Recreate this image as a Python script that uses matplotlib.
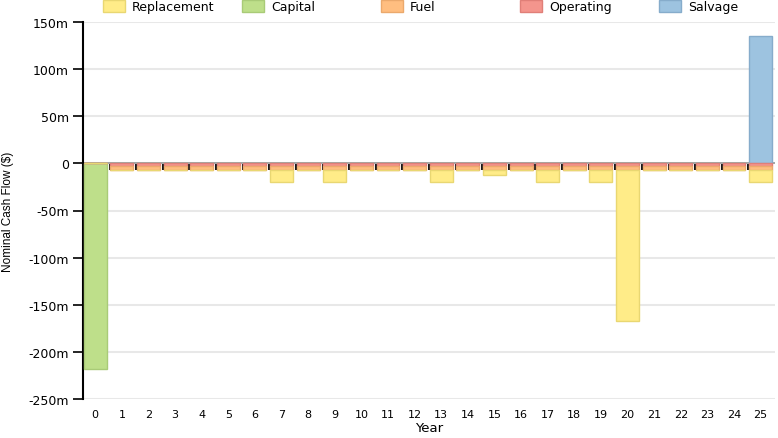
import matplotlib
matplotlib.use("Agg")
import matplotlib.pyplot as plt
from matplotlib.patches import Patch
import numpy as np

plt.rcParams['font.family'] = ['DejaVu Sans']

years = list(range(26))
year_labels = [str(y) for y in years]

capital = [-218] + [0] * 25
operating = [0] + [-2.5] * 25
fuel = [0] + [-4.7] * 25
replacement = [0, 0, 0, 0, 0, 0, 0, -12.5, 0, -12.5, 0, 0, 0, -12.5, 0, -5,
               0, -12.5, 0, -12.5, -160, 0, 0, 0, 0, -12.5]
salvage = [0] * 25 + [135]

y_ticks = [150, 100, 50, 0, -50, -100, -150, -200, -250]
y_tick_labels = ["150m", "100m", "50m", "0", "-50m", "-100m", "-150m", "-200m", "-250m"]

series_names = ["Replacement", "Capital", "Fuel", "Operating", "Salvage"]
fills = {"Replacement": "#FFEC88", "Capital": "#BEDF8A", "Fuel": "#FFBE80",
         "Operating": "#F4958D", "Salvage": "#9DC3E0"}
edges = {"Replacement": "#E9D772", "Capital": "#A9CB77", "Fuel": "#EBA96C",
         "Operating": "#E07F78", "Salvage": "#86ACCB"}

fig = plt.figure(figsize=(7.78, 4.39), dpi=100)
ax = fig.add_axes([83 / 778, 1 - 400 / 439, (775 - 83) / 778, (400 - 23) / 439])

x = np.array(years, dtype=float)
w = 0.86
off = 0.03
op = np.array(operating)
fu = np.array(fuel)
kw = dict(width=w, align='edge', linewidth=1.0, zorder=3)

ax.bar(x + off, capital, color=fills["Capital"], edgecolor=edges["Capital"], **kw)
ax.bar(x + off, salvage, color=fills["Salvage"], edgecolor=edges["Salvage"], **kw)
ax.bar(x + off, operating, color=fills["Operating"], edgecolor=edges["Operating"], **kw)
ax.bar(x + off, fuel, bottom=op, color=fills["Fuel"], edgecolor=edges["Fuel"], **kw)
ax.bar(x + off, replacement, bottom=op + fu, color=fills["Replacement"],
       edgecolor=edges["Replacement"], **kw)

ax.set_xlim(0, len(years))
ax.set_ylim(-250, 150)

ax.set_yticks(y_ticks)
ax.set_yticklabels(y_tick_labels)
ax.tick_params(axis='y', length=7, width=1.2, color='black', labelsize=9, pad=3)
ax.yaxis.grid(True, color='#e8e8e8', linewidth=1.5, zorder=0)
ax.set_axisbelow(True)

ax.set_xticks(x + off + w / 2)
ax.set_xticklabels(year_labels)
ax.tick_params(axis='x', length=0, labelsize=8, pad=7)

for s in ['top', 'right', 'bottom']:
    ax.spines[s].set_visible(False)
ax.spines['left'].set_linewidth(1.5)
ax.spines['left'].set_color('black')

# zero axis with boundary ticks
ax.axhline(0, color='#999999', linewidth=1.2, zorder=2)
zero_frac = (0 - (-250)) / (150 - (-250))
sec = ax.secondary_xaxis(zero_frac)
sec.set_xticks(x)
sec.set_xticklabels([])
sec.tick_params(axis='x', direction='in', length=5, width=1.3, color='black')
sec.spines['bottom'].set_visible(False)
sec.spines['top'].set_visible(False)

ax.set_xlabel("Year", fontsize=9.5, labelpad=2)
ax.set_ylabel("Nominal Cash Flow ($)", fontsize=8.5, labelpad=4,
              family=['Liberation Sans', 'DejaVu Sans'])
ax.yaxis.set_label_coords(-0.1, 0.5)

for k, name in enumerate(series_names):
    h = Patch(facecolor=fills[name], edgecolor=edges[name], label=name)
    fig.legend(handles=[h], loc='upper left',
               bbox_to_anchor=((103 + 139 * k) / 778, 1 - 1 / 439),
               frameon=False, fontsize=9, handlelength=1.75, handleheight=1.1,
               handletextpad=0.55, borderpad=0.0, borderaxespad=0.0)

fig.savefig("out.png", dpi=100)
